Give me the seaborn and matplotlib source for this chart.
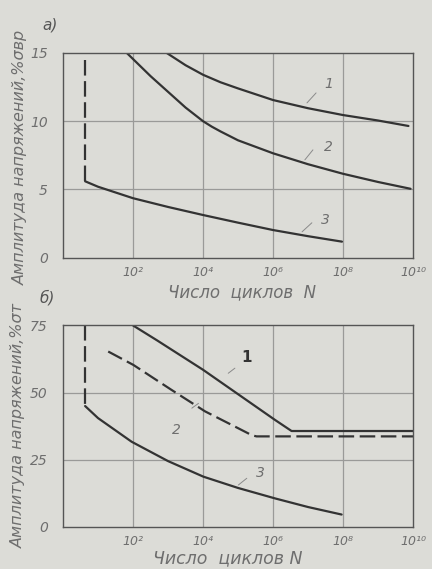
import numpy as np
import pandas as pd
import matplotlib
matplotlib.use("Agg")
import matplotlib.pyplot as plt
import seaborn as sns

# -------------------------------------------------------
# Data (log10 N, stress amplitude in %)
# -------------------------------------------------------
# panel a) - amplitude in % of sigma_vr
a1_logn = [2.96, 3.5, 4.0, 4.5, 5.0, 6.0, 7.0, 8.0, 9.0, 9.87]
a1_amp = [15.0, 14.1, 13.4, 12.85, 12.4, 11.55, 10.95, 10.45, 10.05, 9.65]

a2_logn = [1.82, 2.5, 3.0, 3.5, 3.75, 4.0, 4.25, 4.5, 5.0, 6.0, 7.0, 8.0, 9.0, 9.93]
a2_amp = [15.0, 13.3, 12.15, 11.0, 10.5, 10.0, 9.6, 9.25, 8.6, 7.65, 6.85, 6.15, 5.55, 5.05]

a3_logn = [0.63, 1.0, 2.0, 3.0, 4.0, 5.0, 6.0, 7.0, 7.97]
a3_amp = [5.6, 5.2, 4.36, 3.72, 3.13, 2.57, 2.03, 1.58, 1.18]

a3_dash_logn = [0.63, 0.63]
a3_dash_amp = [14.5, 5.6]

# panel b) - amplitude in % of sigma_t
b1_logn = [2.0, 2.68, 4.0, 6.06, 6.53, 10.0]
b1_amp = [75.0, 69.5, 58.5, 39.8, 35.7, 35.7]

b2_logn = [1.29, 2.01, 3.1, 4.06, 5.01, 5.4, 5.53, 10.0]
b2_amp = [65.3, 60.3, 51.0, 43.0, 36.7, 34.1, 33.7, 33.7]

b3_logn = [0.63, 1.0, 1.96, 3.0, 4.01, 5.0, 6.06, 7.0, 7.96]
b3_amp = [45.0, 40.5, 31.7, 24.5, 18.7, 14.5, 10.6, 7.4, 4.6]

b3_dash_logn = [0.63, 0.63]
b3_dash_amp = [75.0, 45.0]

xtick_pos = [1e2, 1e4, 1e6, 1e8, 1e10]
xtick_lab = ["10²", "10⁴", "10⁶", "10⁸", "10¹⁰"]

# -------------------------------------------------------
# Style
# -------------------------------------------------------
sns.set_theme(style="white")
plt.rcParams['font.family'] = ['DejaVu Sans']
bg = '#dcdcd7'
ink = '#333333'
txt = '#6e6e6e'
grid = '#9a9a98'

fig = plt.figure(figsize=(4.32, 5.69), dpi=100)
fig.patch.set_facecolor(bg)
ax1 = fig.add_axes([0.146, 0.547, 0.810, 0.360])
ax2 = fig.add_axes([0.146, 0.074, 0.810, 0.354])


def draw(ax, logn, amp, dashed=False):
    df = pd.DataFrame({'N': np.power(10.0, logn), 'amp': amp})
    sns.lineplot(data=df, x='N', y='amp', ax=ax, sort=False,
                 color=ink, lw=1.6, estimator=None)
    if dashed:
        ax.lines[-1].set_dashes((7, 2.5))
    ax.set_xlabel('')
    ax.set_ylabel('')


def setup(ax, ymax, yticks):
    ax.set_facecolor(bg)
    ax.set_xscale('log')
    ax.set_xlim(1, 1e10)
    ax.set_ylim(0, ymax)
    ax.set_xticks(xtick_pos)
    ax.set_xticklabels(xtick_lab, style='italic', color=txt, fontsize=9)
    ax.minorticks_off()
    ax.set_yticks(yticks)
    ax.set_yticklabels([str(v) for v in yticks], style='italic', color=txt, fontsize=10)
    ax.tick_params(length=0, axis='y', pad=11)
    ax.tick_params(length=0, axis='x', pad=6)
    for v in xtick_pos[:-1]:
        ax.axvline(v, color=grid, lw=0.9, zorder=0)
    for v in yticks[1:-1]:
        ax.axhline(v, color=grid, lw=0.9, zorder=0)
    for s in ax.spines.values():
        s.set_color('#555555')
        s.set_linewidth(1.0)


# CHART a)
setup(ax1, 15, [0, 5, 10, 15])
draw(ax1, a1_logn, a1_amp)
draw(ax1, a2_logn, a2_amp)
draw(ax1, a3_logn, a3_amp)
draw(ax1, a3_dash_logn, a3_dash_amp, dashed=True)

ax1.plot([10**6.97, 10**7.23], [11.34, 12.07], color='#8a8a8a', lw=0.7)
ax1.plot([10**6.91, 10**7.14], [7.17, 7.9], color='#8a8a8a', lw=0.7)
ax1.plot([10**6.83, 10**7.11], [1.9, 2.56], color='#8a8a8a', lw=0.7)
ax1.text(10**7.6, 12.7, '1', style='italic', color=txt, fontsize=10, ha='center', va='center')
ax1.text(10**7.57, 8.12, '2', style='italic', color=txt, fontsize=10, ha='center', va='center')
ax1.text(10**7.49, 2.78, '3', style='italic', color=txt, fontsize=10, ha='center', va='center')

# CHART b)
setup(ax2, 75, [0, 25, 50, 75])
draw(ax2, b1_logn, b1_amp)
draw(ax2, b2_logn, b2_amp, dashed=True)
draw(ax2, b3_logn, b3_amp)
draw(ax2, b3_dash_logn, b3_dash_amp, dashed=True)

ax2.plot([10**4.72, 10**4.91], [57.2, 59.1], color='#8a8a8a', lw=0.7)
ax2.plot([10**3.68, 10**3.87], [44.2, 46.0], color='#8a8a8a', lw=0.7)
ax2.plot([10**5.01, 10**5.25], [15.6, 18.1], color='#8a8a8a', lw=0.7)
ax2.text(10**5.23, 62.9, '1', color=ink, fontsize=11, fontweight='bold', ha='center', va='center')
ax2.text(10**3.25, 36.0, '2', style='italic', color=txt, fontsize=10, ha='center', va='center')
ax2.text(10**5.63, 19.9, '3', style='italic', color=txt, fontsize=10, ha='center', va='center')

# labels
fig.text(50/432, 1-25/569, 'а)', style='italic', color='#555555', fontsize=11, ha='center', va='center')
fig.text(47/432, 1-298/569, 'б)', style='italic', color='#555555', fontsize=11, ha='center', va='center')
fig.text(20/432, 1-157/569, 'Амплитуда напряжений,%σвр', rotation=90, style='italic',
         color=txt, fontsize=11.5, ha='center', va='center')
fig.text(18/432, 1-425/569, 'Амплитуда напряжений,%σт', rotation=90, style='italic',
         color=txt, fontsize=11.5, ha='center', va='center')
fig.text(242/432, 1-292/569, 'Число  циклов  N', style='italic', color=txt,
         fontsize=12, ha='center', va='center')
fig.text(228/432, 1-558/569, 'Число  циклов N', style='italic', color=txt,
         fontsize=12.5, ha='center', va='center')

plt.savefig('out.png', dpi=100, facecolor=bg)
